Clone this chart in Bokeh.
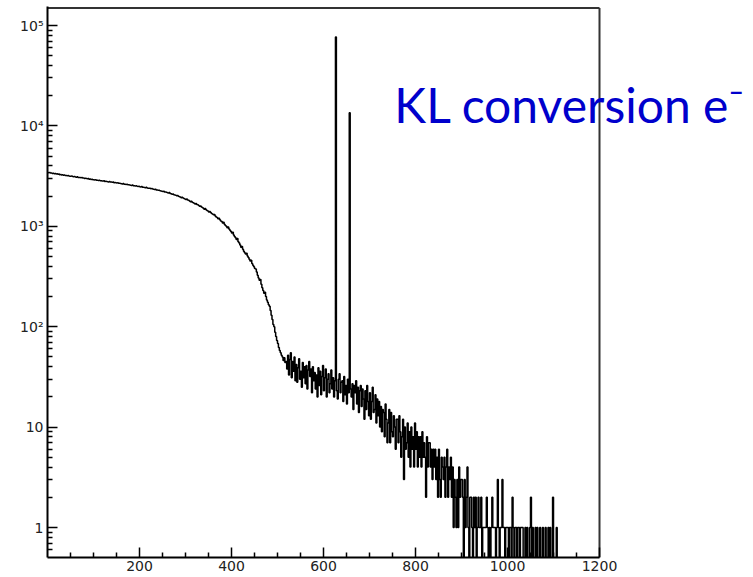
import numpy as np
from bokeh.plotting import figure
from bokeh.models import FixedTicker, Label
from bokeh.embed import file_html
from bokeh.resources import INLINE

# ---------------- data ----------------
bin_width = 2          # histogram bin width (x units)
x_axis_end = 1200

# counts per 2-unit bin, 0 .. 520
counts_0_520 = [
    3440, 3410, 3425, 3390, 3400,  3365, 3380, 3340, 3355, 3320,
    3330, 3295, 3310, 3270, 3285,  3250, 3265, 3230, 3240, 3210,
    3205, 3180, 3215, 3170, 3160,  3150, 3170, 3135, 3120, 3140,
    3100, 3085, 3110, 3070, 3060,  3055, 3040, 3065, 3020, 3030,
    3000, 3015, 2985, 2970, 2990,  2950, 2965, 2930, 2940, 2915,
    2905, 2890, 2910, 2875, 2880,  2860, 2870, 2845, 2850, 2830,
    2820, 2835, 2800, 2815, 2790,  2780, 2770, 2795, 2755, 2760,
    2740, 2755, 2720, 2730, 2710,  2700, 2715, 2685, 2690, 2670,
    2660, 2645, 2670, 2630, 2625,  2610, 2620, 2595, 2600, 2575,
    2570, 2555, 2580, 2540, 2535,  2520, 2530, 2505, 2495, 2500,
    2480, 2465, 2490, 2450, 2455,  2440, 2425, 2445, 2410, 2400,
    2390, 2400, 2370, 2375, 2350,  2340, 2325, 2345, 2300, 2295,
    2280, 2290, 2260, 2250, 2240,  2220, 2235, 2200, 2195, 2180,
    2160, 2150, 2170, 2120, 2110,  2090, 2100, 2065, 2050, 2035,
    2010, 2025, 1990, 1970, 1955,  1930, 1945, 1910, 1890, 1875,
    1850, 1865, 1830, 1815, 1790,  1760, 1775, 1740, 1720, 1700,
    1670, 1690, 1650, 1635, 1610,  1580, 1595, 1560, 1540, 1515,
    1480, 1500, 1465, 1440, 1420,  1390, 1405, 1370, 1345, 1325,
    1300, 1310, 1270, 1240, 1225,  1190, 1200, 1160, 1130, 1115,
    1080, 1095, 1050, 1020, 1000,   970,  985,  940,  915,  890,
     860,  870,  820,  790,  770,   740,  755,  700,  680,  650,
     620,  630,  590,  565,  545,   530,  540,  505,  490,  470,
     450,  460,  425,  410,  395,   380,  375,  350,  325,  305,
     290,  295,  265,  245,  230,   215,  220,  200,  185,  175,
     165,  160,  145,  130,  118,   105,  100,   88,   80,   73,
      68,   62,   58,   55,   52,    50,   46,   49,   44,   45,
]

# 520 .. 720
counts_520_720 = [
    38, 52, 33, 47, 55,  31, 45, 36, 50, 29,
    42, 28, 39, 48, 30,  36, 25, 44, 31, 40,
    27, 41, 24, 37, 45,  32, 38, 22, 40, 29,
    35, 24, 33, 20, 39,  26, 36, 21, 32, 41,
    23, 31, 38, 20, 30,  34, 22, 27, 37, 24,
    31, 20, 29, 35, 23,  19, 30, 34, 22, 28,
    29, 18, 32, 21, 26,  17, 30, 22, 28, 24,
    20, 27, 15, 26, 22,  29, 17, 25, 14, 23,
    26, 16, 24, 19, 12,  23, 15, 26, 18, 13,
    22, 12, 18, 25, 14,  15, 21, 11, 19, 13,
]

# 720 .. 900
counts_720_900 = [
    18, 10, 16,  9, 15,  14,  8, 17, 12,  7,
    11, 15,  7, 14,  9,   8, 13, 10,  6, 12,
    12,  7, 13,  9,  5,   8, 12,  3, 10,  6,
     7, 11,  5,  9,  4,  10,  6,  8,  4, 11,
     6,  9,  4,  8,  5,   8,  4,  9,  5,  7,
     5,  2,  8,  4,  7,   7,  4,  6,  3,  6,
     4,  6,  3,  5,  2,   6,  3,  2,  5,  4,
     3,  5,  2,  4,  6,   2,  4,  3,  5,  2,
     4,  1,  3,  2,  1,   3,  1,  4,  2,  3,
]

# 900 .. 1110 (above this all bins are empty)
counts_900_1110 = [
    3, 2, 0, 3, 1,  2, 4, 1, 0, 2,
    2, 1, 0, 2, 1,  2, 0, 1, 2, 1,
    1, 2, 0, 1, 1,  1, 1, 2, 1, 0,
    1, 0, 1, 2, 1,  1, 1, 0, 1, 3,
    1, 0, 1, 1, 3,  1, 1, 0, 1, 1,
    1, 0, 1, 1, 0,  2, 1, 0, 1, 1,
    0, 1, 1, 0, 1,  1, 1, 0, 0, 1,
    0, 1, 0, 0, 1,  2, 0, 1, 0, 0,
    1, 0, 1, 0, 0,  1, 0, 0, 1, 0,
    0, 1, 0, 0, 1,  0, 1, 0, 0, 2,
    0, 0, 0, 1, 0,
]

# the two conversion-electron lines (bin start, counts)
peak_x = [626, 656]
peak_counts = [77000, 13500]

x_ticks = [200, 400, 600, 800, 1000, 1200]
x_minor_ticks = [50, 100, 150, 250, 300, 350, 450, 500, 550, 650, 700, 750,
                 850, 900, 950, 1050, 1100, 1150]
y_ticks = [1, 10, 100, 1000, 10000, 100000]
y_tick_labels = ["1", "10", "10\u00b2", "10\u00b3", "10\u2074", "10\u2075"]

title_text = "KL conversion e\u207b"

# ---------------- build histogram outline ----------------
n_bins = x_axis_end // bin_width
counts = np.zeros(n_bins)
filled = np.array(counts_0_520 + counts_520_720 + counts_720_900 + counts_900_1110, dtype=float)
counts[:len(filled)] = filled
for px, pc in zip(peak_x, peak_counts):
    counts[int(px // bin_width)] = pc

edges = np.arange(n_bins + 1) * bin_width
vals = np.where(counts > 0, counts, 1e-2)   # empty bins drop to the bottom
xs = np.repeat(edges, 2)[1:-1]
ys = np.repeat(vals, 2)

# ---------------- layout geometry ----------------
W, H = 753, 577
left, top, bottom = 47, 6, 557          # frame edges in pixels
axis_px = 552                           # pixel length of 0..1200
px_per_decade = 100.4
y_one_px = 527                          # pixel row of y = 1

x_view_end = x_axis_end * (W - left) / axis_px
y_lo = 10 ** (-(bottom - y_one_px) / px_per_decade)
y_hi = 10 ** ((y_one_px - top) / px_per_decade)
y_box_top = 10 ** ((y_one_px - (top + 1.5)) / px_per_decade)

p = figure(width=W, height=H, x_range=(0, x_view_end), y_range=(y_lo, y_hi),
           y_axis_type="log", output_backend="svg", toolbar_location=None,
           min_border_left=left, min_border_right=0, min_border_top=top,
           min_border_bottom=H - bottom)

p.xgrid.visible = False
p.ygrid.visible = False
p.background_fill_color = "white"
p.border_fill_color = "white"
p.outline_line_color = None

# histogram
p.line(xs, ys, line_color="black", line_width=1.5)

# top and right edges of the histogram box
p.segment(x0=[0, x_axis_end], y0=[y_box_top, y_lo], x1=[x_axis_end, x_axis_end],
          y1=[y_box_top, y_box_top], line_color="#333333", line_width=2)

# axes
p.xaxis.ticker = FixedTicker(ticks=x_ticks, minor_ticks=x_minor_ticks)
p.xaxis.bounds = (0, x_axis_end)
minor_y = [k * 10.0 ** e for e in range(-1, 5) for k in range(2, 10)]
p.yaxis.ticker = FixedTicker(ticks=y_ticks, minor_ticks=minor_y)
p.yaxis.major_label_overrides = {t: l for t, l in zip(y_ticks, y_tick_labels)}

for ax in (p.xaxis[0], p.yaxis[0]):
    ax.axis_line_color = "black"
    ax.axis_line_width = 2
    ax.major_tick_line_color = "black"
    ax.minor_tick_line_color = "black"
    ax.major_tick_line_width = 1.5
    ax.minor_tick_line_width = 1.5
    ax.major_tick_in = 10
    ax.major_tick_out = 0
    ax.minor_tick_in = 5
    ax.minor_tick_out = 0
    ax.major_label_text_font = "DejaVu Sans"
    ax.major_label_text_font_size = "14px"
    ax.major_label_text_color = "#222222"

p.xaxis.major_label_standoff = 3
p.yaxis.major_label_standoff = 4

label = Label(x=754, y=16340, text=title_text, text_font="Lato",
              text_font_size="48px", text_color="#0000cc",
              text_baseline="alphabetic", text_align="left")
p.add_layout(label)

open("out.html", "w").write(file_html(p, INLINE))
